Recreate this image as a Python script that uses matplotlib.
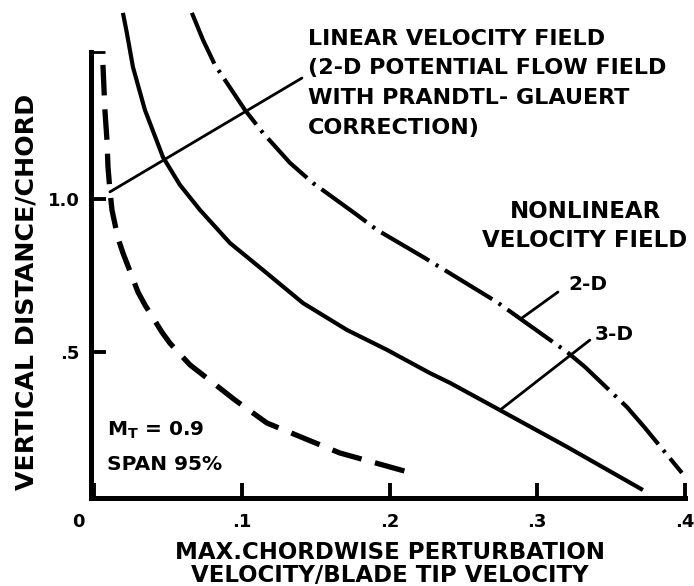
import matplotlib.pyplot as plt
from matplotlib.transforms import ScaledTranslation

plt.rcParams['font.family'] = ['DejaVu Sans']
plt.rcParams['font.weight'] = 'bold'
plt.rcParams['lines.scale_dashes'] = False

# linear velocity field (2-D potential flow + Prandtl-Glauert), dashed
linear_x = [0.0059, 0.0072, 0.0086, 0.0093, 0.0106, 0.0120, 0.0160, 0.0194, 0.0296, 0.0343,
            0.0458, 0.0512, 0.0648, 0.0736, 0.0953, 0.1169, 0.1663, 0.2123]
linear_y = [1.438, 1.291, 1.193, 1.105, 1.029, 0.964, 0.873, 0.824, 0.696, 0.654,
            0.565, 0.529, 0.458, 0.425, 0.343, 0.268, 0.170, 0.108]

# nonlinear velocity field, 3-D (solid)
nl3d_x = [0.0194, 0.0221, 0.0262, 0.0343, 0.0465, 0.0580, 0.0716, 0.0919, 0.1142, 0.1413,
          0.1711, 0.1982, 0.2273, 0.2409, 0.2747, 0.3201, 0.3715]
nl3d_y = [1.608, 1.542, 1.431, 1.291, 1.137, 1.046, 0.964, 0.856, 0.768, 0.660,
          0.572, 0.507, 0.431, 0.399, 0.310, 0.190, 0.049]

# nonlinear velocity field, 2-D (dash-dot)
nl2d_x = [0.0661, 0.0736, 0.0817, 0.1020, 0.1142, 0.1325, 0.1481, 0.1779, 0.1914, 0.2239,
          0.2395, 0.2727, 0.2869, 0.3201, 0.3323, 0.3607, 0.3729, 0.3979]
nl2d_y = [1.608, 1.520, 1.438, 1.291, 1.216, 1.118, 1.052, 0.948, 0.899, 0.807,
          0.761, 0.663, 0.614, 0.500, 0.451, 0.320, 0.252, 0.105]

x_ticks = [0.0, 0.1, 0.2, 0.3, 0.4]
x_ticklabels = ['0', '.1', '.2', '.3', '.4']
y_ticks = [0.5, 1.0]
y_ticklabels = ['.5', '1.0']

W, H = 694, 586
fig = plt.figure(figsize=(W / 100, H / 100), dpi=100)
# axes box in pixels: x 91..685, y 498 (bottom) .. 4 (top)
ax = fig.add_axes([91 / W, (H - 498) / H, (685 - 91) / W, (498 - 4) / H])
ax.set_xlim(-0.0022, 0.4)
ax.set_ylim(0.0229, 1.637)

# dash patterns given in points (not scaled by line width)
ax.plot(linear_x, linear_y, color='black', lw=3.8, linestyle=(0, (22, 10)),
        dash_capstyle='butt', clip_on=False)
ax.plot(nl3d_x, nl3d_y, color='black', lw=3.0, solid_capstyle='butt', clip_on=False)
ax.plot(nl2d_x, nl2d_y, color='black', lw=3.0, linestyle=(0, (40, 5.5, 2.2, 5.5)),
        dash_capstyle='butt', clip_on=False)

# leader lines
leader = dict(arrowstyle='-', color='black', lw=2.0, shrinkA=0, shrinkB=0)
ax.annotate('', xy=(0.0106, 1.023), xytext=(0.1406, 1.395), arrowprops=leader)
ax.annotate('', xy=(0.2896, 0.611), xytext=(0.3140, 0.696), arrowprops=leader)
ax.annotate('', xy=(0.2747, 0.310), xytext=(0.3356, 0.539), arrowprops=leader)

# spines and ticks
for s in ['top', 'right']:
    ax.spines[s].set_visible(False)
for s in ['left', 'bottom']:
    ax.spines[s].set_linewidth(3.6)
ax.spines['left'].set_bounds(0.0229, 1.48)
ax.spines['bottom'].set_bounds(-0.0022, 0.4)

ax.set_xticks(x_ticks)
ax.set_xticklabels(x_ticklabels)
ax.set_yticks(y_ticks)
ax.set_yticklabels(y_ticklabels)
ax.set_yticks([1.48], minor=True)
ax.tick_params(which='both', direction='in', length=11, width=2.8, labelsize=13)
ax.tick_params(axis='x', pad=11)
ax.tick_params(axis='y', pad=8)
ax.tick_params(axis='y', which='minor', length=10, width=2.0)
# the "0" sits left of the corner
lbl0 = ax.get_xticklabels()[0]
lbl0.set_transform(lbl0.get_transform() + ScaledTranslation(-16 / 100, 0, fig.dpi_scale_trans))

txt = dict(fontsize=14.5, fontweight='bold', color='black')
ax.text(0.1447, 1.556, 'LINEAR VELOCITY FIELD\n(2-D POTENTIAL FLOW FIELD\nWITH PRANDTL- GLAUERT\nCORRECTION)',
        ha='left', va='top', linespacing=1.6, fontsize=16, fontweight='bold')
ax.text(0.3323, 0.912, 'NONLINEAR\nVELOCITY FIELD', ha='center', va='center', linespacing=1.34,
        fontsize=16.5, fontweight='bold')
ax.text(0.3207, 0.719, '2-D', ha='left', va='center', **txt)
ax.text(0.3390, 0.556, '3-D', ha='left', va='center', **txt)
ax.text(0.0087, 0.245, r'M$_\mathbf{T}$ = 0.9', ha='left', va='center', **txt)
ax.text(0.0087, 0.131, 'SPAN 95%', ha='left', va='center', **txt)

ax.text((390 - 91) / 594, -(564 - 498) / 494, 'MAX.CHORDWISE PERTURBATION\nVELOCITY/BLADE TIP VELOCITY',
        transform=ax.transAxes, ha='center', va='center', linespacing=1.0, fontsize=16.5, fontweight='bold')
ax.text(-(91 - 27) / 594, (498 - 292) / 494, 'VERTICAL DISTANCE/CHORD', transform=ax.transAxes, rotation=90,
        ha='center', va='center', fontsize=18.2, fontweight='bold')

fig.savefig('out.png', dpi=100)
